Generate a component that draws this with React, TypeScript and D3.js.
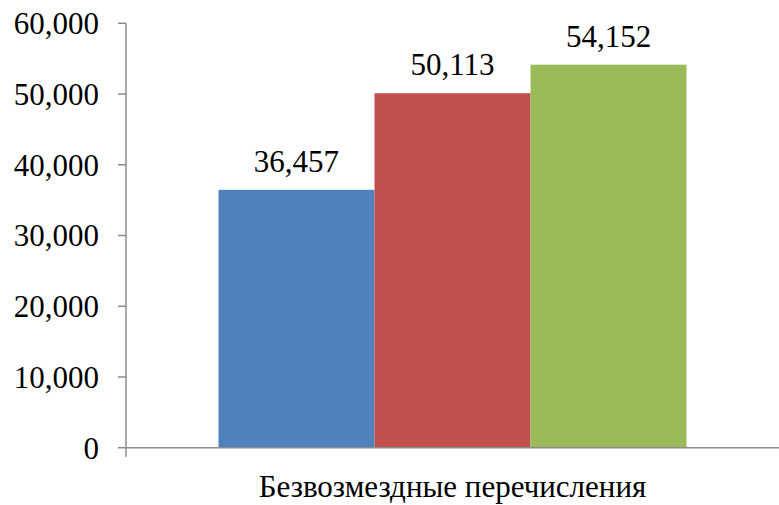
import React from "react";
import * as d3 from "d3";

const categories = ["Безвозмездные перечисления"];
const seriesNames = ["s1", "s2", "s3"];
const seriesValues = [36457, 50113, 54152];
const seriesColors = ["#4F81BD", "#C0504D", "#9BBB59"];
const yTicks = [0, 10000, 20000, 30000, 40000, 50000, 60000];

const W = 779;
const H = 505;
const margin = { left: 126, right: 0, top: 23.3, bottom: 505 - 447.7 };

export default function App() {
  const x = d3
    .scaleBand<string>()
    .domain(categories)
    .range([margin.left, W - margin.right])
    .paddingInner(0)
    .paddingOuter(0.1976);
  const inner = d3
    .scaleBand<string>()
    .domain(seriesNames)
    .range([0, x.bandwidth()]);
  const y = d3
    .scaleLinear()
    .domain([0, 60000])
    .range([H - margin.bottom, margin.top]);
  const fmt = d3.format(",");
  const font = "'Liberation Serif', 'Times New Roman', serif";
  const textStyle = { fontFamily: font, fontSize: 31 };
  const axisColor = "#8c8c8c";
  const y0 = y(0);

  return (
    <svg
      width={W}
      height={H}
      style={{ position: "absolute", left: 0, top: 0, background: "#fff" }}
    >
      {categories.map((c) =>
        seriesValues.map((v, i) => {
          const bx = (x(c) as number) + (inner(seriesNames[i]) as number);
          const bw = inner.bandwidth();
          return (
            <g key={c + i}>
              <rect
                x={bx}
                y={y(v)}
                width={bw}
                height={y0 - y(v)}
                fill={seriesColors[i]}
              />
              <text
                x={bx + bw / 2}
                y={y(v) - 18}
                textAnchor="middle"
                style={textStyle}
                fill="#000"
              >
                {fmt(v)}
              </text>
            </g>
          );
        })
      )}
      {/* y axis */}
      <line
        x1={margin.left}
        x2={margin.left}
        y1={y(60000)}
        y2={y0 + 9}
        stroke={axisColor}
        strokeWidth={1.5}
      />
      {yTicks.map((t) => (
        <g key={t}>
          <line
            x1={margin.left - 8}
            x2={margin.left}
            y1={y(t)}
            y2={y(t)}
            stroke={axisColor}
            strokeWidth={1.5}
          />
          <text
            x={99}
            y={y(t)}
            dy="0.35em"
            textAnchor="end"
            style={textStyle}
            fill="#000"
          >
            {fmt(t)}
          </text>
        </g>
      ))}
      {/* x axis */}
      <line
        x1={margin.left}
        x2={W}
        y1={y0}
        y2={y0}
        stroke={axisColor}
        strokeWidth={1.5}
      />
      {categories.map((c) => (
        <text
          key={c}
          x={(x(c) as number) + x.bandwidth() / 2}
          y={497}
          textAnchor="middle"
          style={textStyle}
          fill="#000"
        >
          {c}
        </text>
      ))}
    </svg>
  );
}
